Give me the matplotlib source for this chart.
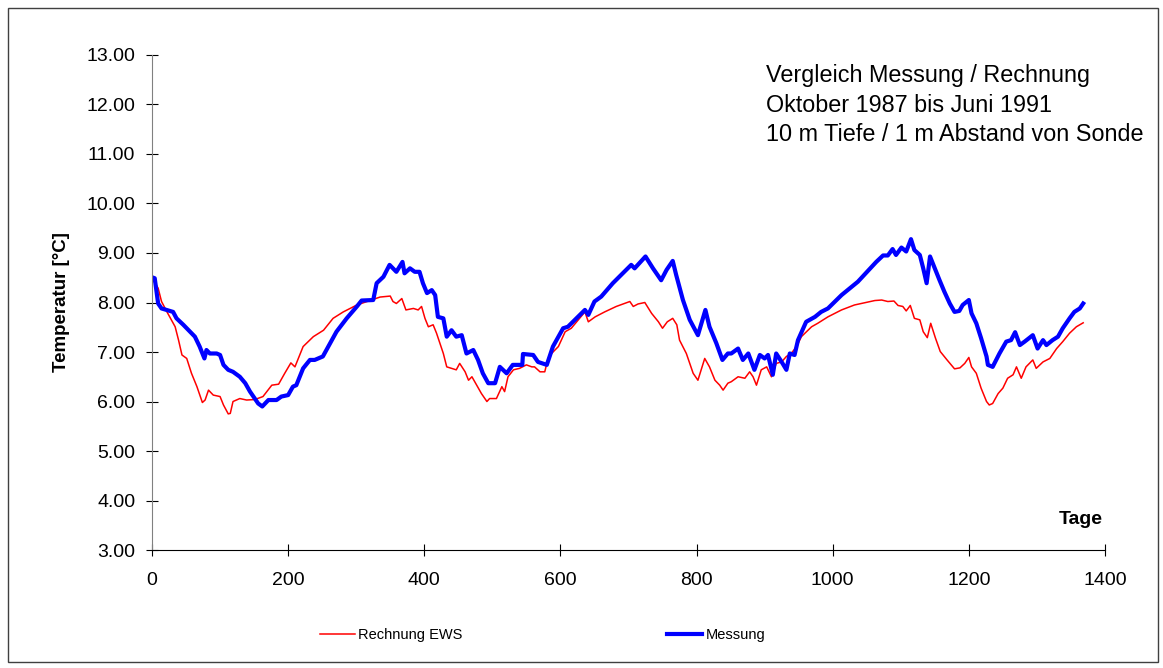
import matplotlib
matplotlib.use("Agg")
import matplotlib.pyplot as plt
from matplotlib.patches import Rectangle
from matplotlib.ticker import FormatStrFormatter, MultipleLocator

plt.rcParams['font.family'] = ['Liberation Sans', 'DejaVu Sans']

# Messung (gemessen), Tage / Temperatur [°C]
mess_tage = [0, 4, 7, 9, 14, 31, 36, 46, 56, 63, 70, 77, 80, 85, 95, 100, 105, 112, 119, 129,
             137, 144, 151, 156, 162, 171, 183, 190, 200, 207, 212, 222, 232, 239, 251, 259, 271,
             286, 301, 308, 325, 330, 340, 349, 359, 368, 371, 379, 386, 393, 398, 404, 411, 416,
             420, 428, 433, 440, 447, 455, 462, 472, 479, 486, 494, 504, 511, 521, 530, 544, 545,
             560, 567, 580, 589, 604, 611, 636, 641, 650, 660, 677, 704, 709, 725, 736, 748, 756,
             765, 770, 780, 790, 802, 813, 819, 829, 838, 846, 851, 861, 868, 876, 885, 893, 900,
             905, 912, 917, 925, 932, 937, 944, 949, 961, 974, 983, 993, 1013, 1037, 1062, 1064,
             1074, 1081, 1088, 1093, 1101, 1108, 1115, 1120, 1128, 1133, 1138, 1143, 1150, 1157,
             1164, 1172, 1179, 1186, 1191, 1200, 1204, 1211, 1218, 1226, 1228, 1235, 1245, 1255,
             1262, 1268, 1275, 1282, 1294, 1301, 1309, 1314, 1323, 1331, 1338, 1348, 1355, 1363,
             1368]
mess_temp = [8.51, 8.49, 8.19, 7.98, 7.88, 7.81, 7.68, 7.55, 7.41, 7.31, 7.11, 6.87, 7.04, 6.97,
             6.97, 6.94, 6.74, 6.64, 6.60, 6.50, 6.37, 6.20, 6.06, 5.96, 5.90, 6.03, 6.03, 6.10,
             6.13, 6.30, 6.33, 6.67, 6.84, 6.84, 6.91, 7.11, 7.41, 7.68, 7.92, 8.04, 8.05, 8.39,
             8.52, 8.76, 8.62, 8.82, 8.59, 8.69, 8.62, 8.62, 8.39, 8.19, 8.25, 8.15, 7.71, 7.68,
             7.31, 7.44, 7.31, 7.34, 6.97, 7.04, 6.84, 6.57, 6.37, 6.37, 6.70, 6.57, 6.74, 6.74,
             6.96, 6.94, 6.80, 6.74, 7.11, 7.48, 7.51, 7.85, 7.75, 8.02, 8.12, 8.39, 8.76, 8.69,
             8.93, 8.69, 8.45, 8.66, 8.84, 8.56, 8.05, 7.65, 7.34, 7.85, 7.51, 7.18, 6.84, 6.97,
             6.97, 7.07, 6.84, 6.97, 6.64, 6.94, 6.87, 6.94, 6.54, 6.97, 6.80, 6.64, 6.97, 6.94,
             7.24, 7.61, 7.71, 7.81, 7.88, 8.15, 8.42, 8.79, 8.82, 8.95, 8.95, 9.08, 8.96, 9.11,
             9.03, 9.28, 9.06, 8.96, 8.69, 8.39, 8.93, 8.69, 8.45, 8.22, 7.98, 7.81, 7.83, 7.95,
             8.05, 7.78, 7.58, 7.28, 6.91, 6.74, 6.70, 6.97, 7.21, 7.24, 7.40, 7.14, 7.21, 7.34,
             7.07, 7.24, 7.14, 7.24, 7.31, 7.48, 7.68, 7.81, 7.88, 7.98]

# Rechnung EWS (berechnet)
rech_tage = [0, 9, 14, 22, 34, 39, 44, 51, 58, 66, 74, 78, 83, 90, 100, 105, 112, 115, 119, 129,
             139, 151, 163, 176, 186, 195, 204, 210, 222, 237, 252, 266, 281, 301, 320, 335, 350,
             354, 359, 367, 373, 384, 391, 396, 401, 406, 413, 418, 428, 433, 440, 447, 452, 460,
             465, 470, 477, 484, 492, 496, 506, 514, 518, 523, 531, 540, 550, 558, 562, 570, 577,
             580, 587, 597, 607, 616, 636, 641, 651, 665, 682, 702, 707, 714, 724, 734, 744, 750,
             757, 765, 771, 775, 785, 795, 802, 812, 819, 827, 834, 839, 846, 851, 861, 871, 878,
             883, 888, 895, 903, 910, 917, 925, 932, 939, 947, 954, 969, 978, 993, 1013, 1032,
             1062, 1072, 1081, 1090, 1096, 1103, 1108, 1114, 1120, 1128, 1133, 1139, 1144, 1151,
             1158, 1168, 1179, 1187, 1194, 1200, 1204, 1211, 1218, 1226, 1230, 1235, 1243, 1250,
             1257, 1265, 1270, 1277, 1284, 1294, 1299, 1309, 1319, 1329, 1338, 1348, 1358, 1368]
rech_temp = [8.49, 8.29, 8.02, 7.81, 7.51, 7.24, 6.94, 6.87, 6.57, 6.30, 5.98, 6.03, 6.23, 6.13,
             6.10, 5.93, 5.75, 5.76, 6.00, 6.06, 6.03, 6.04, 6.10, 6.33, 6.35, 6.57, 6.78, 6.70,
             7.11, 7.31, 7.44, 7.68, 7.81, 7.95, 8.04, 8.11, 8.13, 8.02, 7.98, 8.08, 7.85, 7.88,
             7.85, 7.92, 7.68, 7.51, 7.55, 7.38, 6.97, 6.70, 6.67, 6.64, 6.77, 6.60, 6.43, 6.50,
             6.33, 6.16, 6.00, 6.06, 6.06, 6.30, 6.20, 6.50, 6.64, 6.67, 6.74, 6.70, 6.70, 6.60,
             6.60, 6.77, 6.97, 7.11, 7.41, 7.48, 7.81, 7.61, 7.71, 7.81, 7.92, 8.02, 7.92, 7.97,
             8.00, 7.78, 7.61, 7.48, 7.61, 7.68, 7.55, 7.24, 6.97, 6.57, 6.43, 6.87, 6.70, 6.43,
             6.33, 6.23, 6.37, 6.40, 6.50, 6.47, 6.60, 6.50, 6.33, 6.64, 6.70, 6.50, 6.77, 6.80,
             6.91, 6.97, 7.11, 7.31, 7.51, 7.58, 7.71, 7.85, 7.95, 8.04, 8.05, 8.02, 8.03, 7.94,
             7.92, 7.83, 7.94, 7.68, 7.65, 7.41, 7.29, 7.58, 7.28, 7.01, 6.84, 6.66, 6.68, 6.77,
             6.89, 6.70, 6.57, 6.27, 6.00, 5.93, 5.96, 6.16, 6.27, 6.47, 6.54, 6.70, 6.47, 6.70,
             6.84, 6.67, 6.80, 6.87, 7.07, 7.21, 7.38, 7.51, 7.59]

info_zeilen = ["Vergleich Messung / Rechnung",
               "Oktober 1987 bis Juni 1991",
               "10 m Tiefe / 1 m Abstand von Sonde"]

fig = plt.figure(figsize=(11.63, 6.68), dpi=100)
ax = fig.add_axes([0.1307, 0.1766, 0.8194, 0.7411])

# Rahmen um das ganze Bild
fig.patches.append(Rectangle((8 / 1163, 6 / 668), 1150 / 1163, 654 / 668,
                             transform=fig.transFigure, fill=False,
                             edgecolor="#404040", linewidth=1.0))

l_rech, = ax.plot(rech_tage, rech_temp, color="#ff0000", lw=1.1, label="Rechnung EWS")
l_mess, = ax.plot(mess_tage, mess_temp, color="#0000ff", lw=3.0, label="Messung")

ax.set_xlim(0, 1400)
ax.set_ylim(3, 13)
ax.xaxis.set_major_locator(MultipleLocator(200))
ax.yaxis.set_major_locator(MultipleLocator(1))
ax.yaxis.set_major_formatter(FormatStrFormatter("%.2f"))

for s in ["top", "right"]:
    ax.spines[s].set_visible(False)
ax.spines["left"].set_color("#808080")
ax.spines["bottom"].set_color("black")
ax.tick_params(axis="both", direction="inout", length=8, width=0.8, labelsize=14)
ax.tick_params(axis="x", pad=12)
ax.tick_params(axis="y", pad=8)

ax.set_ylabel("Temperatur [°C]", fontsize=13.5, fontweight="bold", labelpad=12)
ax.text(0.998, 0.045, "Tage", transform=ax.transAxes, ha="right", va="bottom",
        fontsize=14, fontweight="bold")

ax.text(0.644, 0.981, "\n".join(info_zeilen), transform=ax.transAxes, ha="left", va="top",
        fontsize=16.8, linespacing=1.36)

fig.legend(handles=[l_rech, l_mess], loc="center", bbox_to_anchor=(0.4665, 0.0494),
           ncol=2, frameon=False, fontsize=10.5, handlelength=2.4, handletextpad=0.25,
           columnspacing=14.0)

fig.savefig("out.png", dpi=100)
